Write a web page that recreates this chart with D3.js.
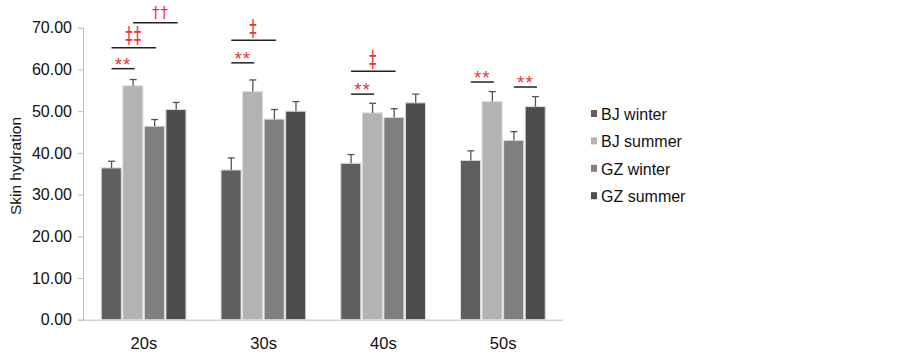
<!DOCTYPE html>
<html>
<head>
<meta charset="utf-8">
<script src="https://cdn.jsdelivr.net/npm/d3@7"></script>
<style>
body { margin: 0; background: #fff; }
svg text { font-family: "Liberation Sans", Arial, sans-serif; }
</style>
</head>
<body>
<div id="canvas"></div>
<script>
// ----------------------------------------------------------
// DATA -----------------------------------------------------
// ----------------------------------------------------------
var ages = ["20s", "30s", "40s", "50s"];
var seriesNames = ["BJ winter", "BJ summer", "GZ winter", "GZ summer"];
var seriesColors = ["#5f5f5f", "#b3b3b3", "#7f7f7f", "#4d4d4d"];

// mean values per series, by age group
var bjWinter = [36.4, 35.9, 37.5, 38.2];
var bjSummer = [56.1, 54.7, 49.6, 52.3];
var gzWinter = [46.4, 48.1, 48.5, 43.0];
var gzSummer = [50.4, 50.0, 52.0, 51.1];
// upper error (SD) per series
var bjWinterErr = [1.6, 2.9, 2.1, 2.3];
var bjSummerErr = [1.5, 2.8, 2.3, 2.4];
var gzWinterErr = [1.6, 2.3, 2.1, 2.1];
var gzSummerErr = [1.7, 2.3, 2.1, 2.4];

var yTicks = [0, 10, 20, 30, 40, 50, 60, 70];

// significance marks: age group, from series, to series, bracket level, label
var marks = [
  { age: "20s", a: 0, b: 1, level: 60.2, label: "**" },
  { age: "20s", a: 0, b: 2, level: 65.2, label: "\u2021\u2021" },
  { age: "20s", a: 1, b: 3, level: 71.2, label: "\u2020\u2020" },
  { age: "30s", a: 0, b: 1, level: 61.6, label: "**" },
  { age: "30s", a: 0, b: 2, level: 67.0, label: "\u2021" },
  { age: "40s", a: 0, b: 1, level: 54.1, label: "**" },
  { age: "40s", a: 0, b: 2, level: 59.6, label: "\u2021" },
  { age: "50s", a: 0, b: 1, level: 57.0, label: "**" },
  { age: "50s", a: 2, b: 3, level: 55.8, label: "**" }
];

var means = [bjWinter, bjSummer, gzWinter, gzSummer];
var errs = [bjWinterErr, bjSummerErr, gzWinterErr, gzSummerErr];

// ----------------------------------------------------------
// STRUCTURE ------------------------------------------------
// ----------------------------------------------------------
var W = 903, H = 353;
var svg = d3.select("#canvas").append("svg")
  .attr("width", W)
  .attr("height", H);

var x0 = d3.scaleBand().domain(ages).range([84, 563])
  .paddingInner(0.28).paddingOuter(0.14);
var x1 = d3.scaleBand().domain(d3.range(seriesNames.length))
  .range([0, x0.bandwidth()]);
var y = d3.scaleLinear().domain([0, 70]).range([319.7, 27.8]);

// ----------------------------------------------------------
// AXES -----------------------------------------------------
// ----------------------------------------------------------
svg.append("g")
  .attr("transform", "translate(83,0)")
  .call(d3.axisLeft(y).tickValues(yTicks).tickFormat(d3.format(".2f"))
    .tickSize(5).tickPadding(6))
  .call(function(g) {
    g.select(".domain").attr("stroke", "#bdbdbd");
    g.selectAll(".tick line").attr("stroke", "#bdbdbd");
    g.selectAll(".tick text").style("font-size", "16px").attr("fill", "#111");
  });

svg.append("g")
  .attr("transform", "translate(0," + y(0) + ")")
  .call(d3.axisBottom(x0).tickSize(0).tickPadding(18))
  .call(function(g) {
    g.select(".domain").attr("stroke", "#bdbdbd").attr("d", "M83,0.5H563");
    g.selectAll(".tick text").style("font-size", "16.5px").attr("fill", "#111");
  });

svg.append("text")
  .attr("transform", "translate(21," + 166 + ") rotate(-90)")
  .attr("text-anchor", "middle")
  .style("font-size", "15.5px")
  .attr("fill", "#111")
  .text("Skin hydration");

// ----------------------------------------------------------
// BARS -----------------------------------------------------
// ----------------------------------------------------------
var rows = [];
ages.forEach(function(age, i) {
  seriesNames.forEach(function(s, j) {
    rows.push({ age: age, s: j, v: means[j][i], e: errs[j][i] });
  });
});

var bars = svg.append("g");
bars.selectAll("rect")
  .data(rows)
  .enter()
  .append("rect")
  .attr("x", function(d) { return x0(d.age) + x1(d.s) + 0.5; })
  .attr("y", function(d) { return y(d.v); })
  .attr("width", x1.bandwidth() - 1.5)
  .attr("height", function(d) { return y(0) - y(d.v); })
  .attr("fill", function(d) { return seriesColors[d.s]; })
  .attr("stroke", "#dcdcdc")
  .attr("stroke-width", 1);

// error bars (upper only)
var eb = svg.append("g").attr("stroke", "#555").attr("stroke-width", 1.3);
rows.forEach(function(d) {
  var cx = x0(d.age) + x1(d.s) + x1.bandwidth() / 2;
  eb.append("line").attr("x1", cx).attr("x2", cx)
    .attr("y1", y(d.v)).attr("y2", y(d.v + d.e));
  eb.append("line").attr("x1", cx - 3.5).attr("x2", cx + 3.5)
    .attr("y1", y(d.v + d.e)).attr("y2", y(d.v + d.e));
});

// ----------------------------------------------------------
// SIGNIFICANCE ---------------------------------------------
// ----------------------------------------------------------
var sig = svg.append("g");
marks.forEach(function(m) {
  var xa = x0(m.age) + x1(m.a) + x1.bandwidth() / 2;
  var xb = x0(m.age) + x1(m.b) + x1.bandwidth() / 2 + 1.5;
  var ly = y(m.level);
  sig.append("line")
    .attr("x1", xa).attr("x2", xb)
    .attr("y1", ly).attr("y2", ly)
    .attr("stroke", "#222").attr("stroke-width", 1.5);
  var isStar = m.label === "**";
  var isDagger = m.label.charAt(0) === "\u2020";
  var tx = (xa + xb) / 2 + (isDagger ? 5 : 0);
  var tf;
  if (isStar) tf = "translate(" + tx + "," + (ly + 2) + ")";
  else if (isDagger) tf = "translate(" + tx + "," + (ly - 5) + ") scale(1,1.05)";
  else tf = "translate(" + tx + "," + (ly - 4.5) + ") scale(1,1.5)"; // tall double daggers
  sig.append("text")
    .attr("transform", tf)
    .attr("text-anchor", "middle")
    .style("font-family", isStar ? null : "'DejaVu Sans', sans-serif")
    .style("font-size", isStar ? "19px" : "15px")
    .style("letter-spacing", "1px")
    .attr("fill", "#e8343c")
    .text(m.label);
});

// ----------------------------------------------------------
// LEGEND ---------------------------------------------------
// ----------------------------------------------------------
var legend = svg.append("g").attr("transform", "translate(591,114)");
seriesNames.forEach(function(s, i) {
  var row = legend.append("g").attr("transform", "translate(0," + (i * 27.4) + ")");
  row.append("rect").attr("x", 0).attr("y", -4).attr("width", 6).attr("height", 7)
    .attr("fill", seriesColors[i]);
  row.append("text").attr("x", 10).attr("y", 6)
    .style("font-size", "16px").attr("fill", "#111")
    .text(s);
});
</script>
</body>
</html>
